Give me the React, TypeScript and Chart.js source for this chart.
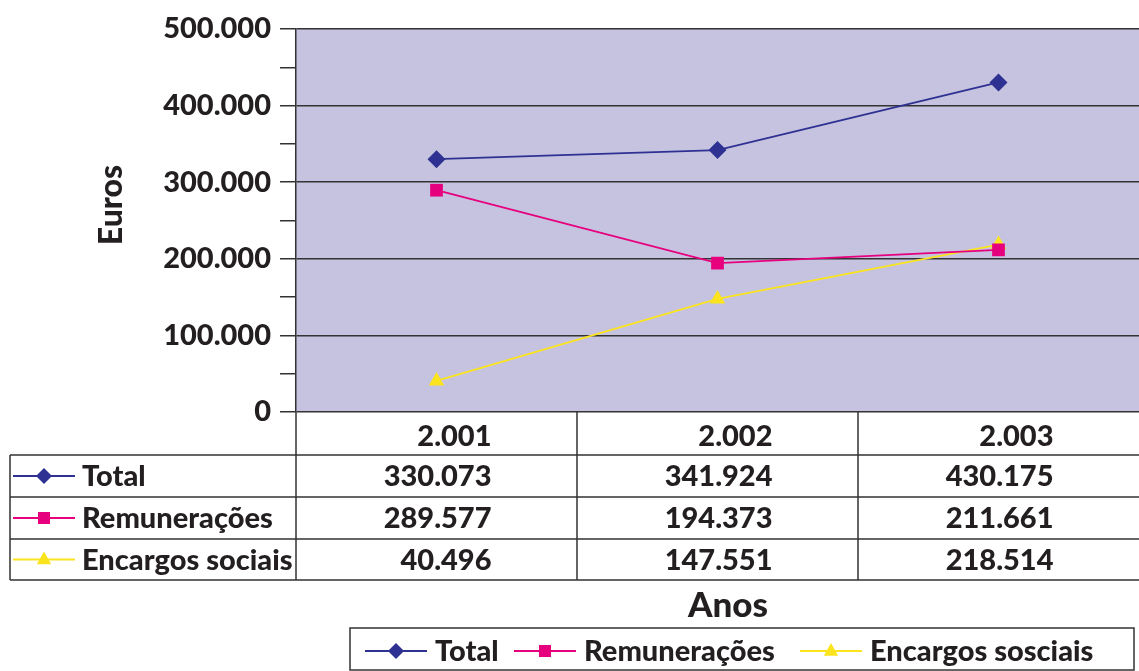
import React, { useEffect, useRef } from "react";
import { Chart, registerables } from "chart.js";

Chart.register(...registerables);

const years = ["2.001", "2.002", "2.003"];
const totalValues = [330073, 341924, 430175];
const remuneracoesValues = [289577, 194373, 211661];
const encargosValues = [40496, 147551, 218514];
const seriesNames = ["Total", "Remunerações", "Encargos sociais"];
const legendNames = ["Total", "Remunerações", "Encargos sosciais"];
const yTickStep = 100000;
const yMinorStep = 50000;
const yMax = 500000;

const COLORS = ["#2e3192", "#e6007e", "#fbe41e"];
const MARKERS = ["diamond", "square", "triangle"];
const BG = "#c5c3e0";
const INK = "#231f20";
const FONT = "Lato, 'Open Sans', sans-serif";
const W = 900;
const FS = 29;

function fmt(v: number): string {
  const s = Math.round(v).toString();
  return s.replace(/\B(?=(\d{3})+(?!\d))/g, ".");
}

function drawMarker(ctx: CanvasRenderingContext2D, kind: string, x: number, y: number, color: string) {
  ctx.save();
  ctx.fillStyle = color;
  ctx.beginPath();
  if (kind === "diamond") {
    const r = 8;
    ctx.moveTo(x, y - r);
    ctx.lineTo(x + r, y);
    ctx.lineTo(x, y + r);
    ctx.lineTo(x - r, y);
    ctx.closePath();
  } else if (kind === "square") {
    const s = 6;
    ctx.rect(x - s, y - s, 2 * s, 2 * s);
  } else {
    const r = 8;
    ctx.moveTo(x, y - r);
    ctx.lineTo(x + r * 0.9, y + r * 0.6);
    ctx.lineTo(x - r * 0.9, y + r * 0.6);
    ctx.closePath();
  }
  ctx.fill();
  ctx.restore();
}

function drawIcon(ctx: CanvasRenderingContext2D, i: number, x0: number, x1: number, y: number) {
  ctx.save();
  ctx.strokeStyle = COLORS[i];
  ctx.lineWidth = 2;
  ctx.beginPath();
  ctx.moveTo(x0, y);
  ctx.lineTo(x1, y);
  ctx.stroke();
  ctx.restore();
  drawMarker(ctx, MARKERS[i], (x0 + x1) / 2, y, COLORS[i]);
}

const customPlugin = {
  id: "custom",
  beforeDraw(chart: any) {
    const { ctx, chartArea: a } = chart;
    ctx.save();
    ctx.fillStyle = BG;
    ctx.fillRect(a.left, a.top, a.right - a.left, a.bottom - a.top);
    ctx.restore();
  },
  afterDraw(chart: any) {
    const { ctx, chartArea: a } = chart;
    const xs = chart.scales.x;
    const n = years.length;
    const colW = (a.right - a.left) / n;
    const tableLeft = 10;
    const headerTop = a.bottom;
    const rowLines = [headerTop, headerTop + 43, headerTop + 85, headerTop + 127, headerTop + 168];
    const allSeries = [totalValues, remuneracoesValues, encargosValues];

    ctx.save();
    ctx.strokeStyle = "#333";
    ctx.lineWidth = 1.5;
    ctx.beginPath();
    for (let r = 1; r < rowLines.length; r++) {
      ctx.moveTo(tableLeft, rowLines[r]);
      ctx.lineTo(a.right, rowLines[r]);
    }
    for (let c = 0; c < n; c++) {
      const x = a.left + c * colW;
      ctx.moveTo(x, headerTop);
      ctx.lineTo(x, rowLines[4]);
    }
    ctx.moveTo(tableLeft, rowLines[1]);
    ctx.lineTo(tableLeft, rowLines[4]);
    ctx.stroke();

    ctx.fillStyle = INK;
    ctx.font = `${W} ${FS}px ${FONT}`;
    ctx.textBaseline = "middle";
    ctx.textAlign = "right";
    for (let c = 0; c < n; c++) {
      const cx = xs.getPixelForValue(c) + 55;
      ctx.fillText(years[c], cx, (rowLines[0] + rowLines[1]) / 2 + 3);
      for (let s = 0; s < 3; s++) {
        ctx.fillText(fmt(allSeries[s][c]), cx, (rowLines[s + 1] + rowLines[s + 2]) / 2 + 1);
      }
    }
    ctx.textAlign = "left";
    for (let s = 0; s < 3; s++) {
      const y = (rowLines[s + 1] + rowLines[s + 2]) / 2;
      drawIcon(ctx, s, 13, 75, y);
      ctx.fillStyle = INK;
      ctx.fillText(seriesNames[s], 82, y + 1);
    }

    // Y title
    ctx.save();
    ctx.translate(112, 205);
    ctx.rotate(-Math.PI / 2);
    ctx.textAlign = "center";
    ctx.font = `${W} 32px ${FONT}`;
    ctx.fillText("Euros", 0, 0);
    ctx.restore();

    // X title
    ctx.textAlign = "center";
    ctx.font = `${W} 35px ${FONT}`;
    ctx.fillText("Anos", 728, 606);

    // Legend
    ctx.font = `${W} ${FS}px ${FONT}`;
    ctx.strokeStyle = "#333";
    ctx.lineWidth = 1.5;
    ctx.strokeRect(350, 628, 784, 42);
    const starts = [365, 514, 800];
    ctx.textAlign = "left";
    for (let s = 0; s < 3; s++) {
      const x = starts[s];
      drawIcon(ctx, s, x, x + 62, 651);
      ctx.fillStyle = INK;
      ctx.fillText(legendNames[s], x + 70, 652);
    }
    ctx.restore();
  },
};

export default function App() {
  const ref = useRef<HTMLCanvasElement | null>(null);
  useEffect(() => {
    if (!ref.current) return;
    const chart = new Chart(ref.current, {
      type: "line",
      data: {
        labels: years,
        datasets: [
          {
            label: seriesNames[0],
            data: totalValues,
            borderColor: COLORS[0],
            backgroundColor: COLORS[0],
            borderWidth: 1.8,
            pointStyle: "rectRot",
            pointRadius: 9,
            pointBorderWidth: 0,
          },
          {
            label: seriesNames[1],
            data: remuneracoesValues,
            borderColor: COLORS[1],
            backgroundColor: COLORS[1],
            borderWidth: 1.8,
            pointStyle: "rect",
            pointRadius: 9,
            pointBorderWidth: 0,
          },
          {
            label: seriesNames[2],
            data: encargosValues,
            borderColor: COLORS[2],
            backgroundColor: COLORS[2],
            borderWidth: 1.8,
            pointStyle: "triangle",
            pointRadius: 9,
            pointBorderWidth: 0,
          },
        ],
      },
      options: {
        responsive: false,
        animation: false,
        devicePixelRatio: 1,
        layout: { autoPadding: false, padding: { left: 0, right: 0, top: 29, bottom: 259 } },
        plugins: { legend: { display: false }, tooltip: { enabled: false } },
        scales: {
          x: { type: "category", offset: true, display: false },
          y: {
            min: 0,
            max: yMax,
            afterFit: (s: any) => {
              s.width = 296;
            },
            afterBuildTicks: (s: any) => {
              const t: any[] = [];
              for (let v = 0; v <= yMax; v += yMinorStep) t.push({ value: v });
              s.ticks = t;
            },
            ticks: {
              autoSkip: false,
              padding: 9,
              color: INK,
              font: { family: FONT, weight: W as any, size: FS },
              callback: (v: any) => (Number(v) % yTickStep === 0 ? fmt(Number(v)) : ""),
            },
            grid: {
              color: (c: any) => (c.tick && c.tick.value % yTickStep === 0 ? "#333" : "rgba(0,0,0,0)"),
              tickColor: "#333",
              tickLength: 16,
              lineWidth: 1.5,
            },
            border: { color: "#333", width: 1.5 },
          },
        },
      },
      plugins: [customPlugin],
    } as any);
    return () => chart.destroy();
  }, []);
  return (
    <div style={{ position: "fixed", left: 0, top: 0, width: 1139, height: 671, background: "#fff" }}>
      <canvas ref={ref} width={1139} height={671} style={{ width: 1139, height: 671 }} />
    </div>
  );
}
